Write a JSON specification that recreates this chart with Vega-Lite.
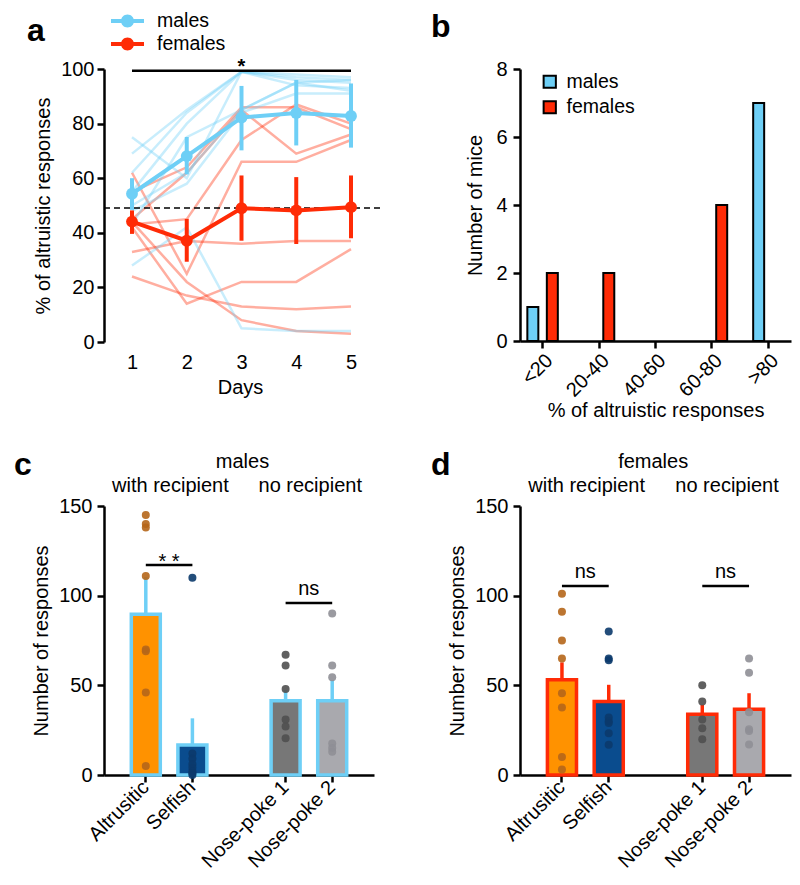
{
  "$schema": "https://vega.github.io/schema/vega-lite/v6.json",
  "padding": {"left": 14, "top": 8, "right": 5, "bottom": 5},
  "config": {
    "font": "Liberation Sans",
    "view": {"stroke": null},
    "axis": {"domainColor": "black", "domainWidth": 2.5, "tickColor": "black", "tickWidth": 2.5, "tickSize": 7, "labelColor": "black", "titleColor": "black", "labelFontSize": 20, "titleFontSize": 20, "titleFontWeight": "normal", "grid": false, "labelPadding": 4},
    "title": {"anchor": "start", "frame": "group", "fontSize": 32, "fontWeight": "bold", "color": "black"}
  },
  "columns": 2,
  "spacing": {"row": 164, "column": 144},
  "bounds": "flush",
  "resolve": {"scale": {"color": "independent", "fill": "independent"}, "legend": {"color": "independent"}},
  "concat": [
    {
      "width": 272, "height": 273,
      "title": {"text": "a", "dx": -77, "dy": 44},
      "data": {"values": [
            {"sex":"males","mouse":"M1","day":1,"pct":69},{"sex":"males","mouse":"M1","day":2,"pct":85},{"sex":"males","mouse":"M1","day":3,"pct":99},{"sex":"males","mouse":"M1","day":4,"pct":98},{"sex":"males","mouse":"M1","day":5,"pct":97},
            {"sex":"males","mouse":"M2","day":1,"pct":62},{"sex":"males","mouse":"M2","day":2,"pct":84},{"sex":"males","mouse":"M2","day":3,"pct":99},{"sex":"males","mouse":"M2","day":4,"pct":97},{"sex":"males","mouse":"M2","day":5,"pct":96},
            {"sex":"males","mouse":"M3","day":1,"pct":55},{"sex":"males","mouse":"M3","day":2,"pct":80},{"sex":"males","mouse":"M3","day":3,"pct":99},{"sex":"males","mouse":"M3","day":4,"pct":96},{"sex":"males","mouse":"M3","day":5,"pct":95},
            {"sex":"males","mouse":"M4","day":1,"pct":75},{"sex":"males","mouse":"M4","day":2,"pct":60},{"sex":"males","mouse":"M4","day":3,"pct":99},{"sex":"males","mouse":"M4","day":4,"pct":94},{"sex":"males","mouse":"M4","day":5,"pct":93},
            {"sex":"males","mouse":"M5","day":1,"pct":50},{"sex":"males","mouse":"M5","day":2,"pct":62},{"sex":"males","mouse":"M5","day":3,"pct":85},{"sex":"males","mouse":"M5","day":4,"pct":95},{"sex":"males","mouse":"M5","day":5,"pct":92},
            {"sex":"males","mouse":"M6","day":1,"pct":48},{"sex":"males","mouse":"M6","day":2,"pct":58},{"sex":"males","mouse":"M6","day":3,"pct":84},{"sex":"males","mouse":"M6","day":4,"pct":91},{"sex":"males","mouse":"M6","day":5,"pct":91},
            {"sex":"males","mouse":"M7","day":1,"pct":43},{"sex":"males","mouse":"M7","day":2,"pct":75},{"sex":"males","mouse":"M7","day":3,"pct":85},{"sex":"males","mouse":"M7","day":4,"pct":95},{"sex":"males","mouse":"M7","day":5,"pct":96},
            {"sex":"males","mouse":"M8","day":1,"pct":28},{"sex":"males","mouse":"M8","day":2,"pct":42},{"sex":"males","mouse":"M8","day":3,"pct":5},{"sex":"males","mouse":"M8","day":4,"pct":4},{"sex":"males","mouse":"M8","day":5,"pct":4},
            {"sex":"females","mouse":"F1","day":1,"pct":55},{"sex":"females","mouse":"F1","day":2,"pct":64},{"sex":"females","mouse":"F1","day":3,"pct":86},{"sex":"females","mouse":"F1","day":4,"pct":86},{"sex":"females","mouse":"F1","day":5,"pct":78},
            {"sex":"females","mouse":"F2","day":1,"pct":45},{"sex":"females","mouse":"F2","day":2,"pct":62},{"sex":"females","mouse":"F2","day":3,"pct":85},{"sex":"females","mouse":"F2","day":4,"pct":69},{"sex":"females","mouse":"F2","day":5,"pct":76},
            {"sex":"females","mouse":"F3","day":1,"pct":43},{"sex":"females","mouse":"F3","day":2,"pct":45},{"sex":"females","mouse":"F3","day":3,"pct":74},{"sex":"females","mouse":"F3","day":4,"pct":87},{"sex":"females","mouse":"F3","day":5,"pct":80},
            {"sex":"females","mouse":"F4","day":1,"pct":62},{"sex":"females","mouse":"F4","day":2,"pct":25},{"sex":"females","mouse":"F4","day":3,"pct":66},{"sex":"females","mouse":"F4","day":4,"pct":66},{"sex":"females","mouse":"F4","day":5,"pct":74},
            {"sex":"females","mouse":"F5","day":1,"pct":33},{"sex":"females","mouse":"F5","day":2,"pct":37},{"sex":"females","mouse":"F5","day":3,"pct":36},{"sex":"females","mouse":"F5","day":4,"pct":37},{"sex":"females","mouse":"F5","day":5,"pct":37},
            {"sex":"females","mouse":"F6","day":1,"pct":24},{"sex":"females","mouse":"F6","day":2,"pct":17},{"sex":"females","mouse":"F6","day":3,"pct":13},{"sex":"females","mouse":"F6","day":4,"pct":12},{"sex":"females","mouse":"F6","day":5,"pct":13},
            {"sex":"females","mouse":"F7","day":1,"pct":42},{"sex":"females","mouse":"F7","day":2,"pct":14},{"sex":"females","mouse":"F7","day":3,"pct":22},{"sex":"females","mouse":"F7","day":4,"pct":22},{"sex":"females","mouse":"F7","day":5,"pct":34},
            {"sex":"females","mouse":"F8","day":1,"pct":44},{"sex":"females","mouse":"F8","day":2,"pct":22},{"sex":"females","mouse":"F8","day":3,"pct":8},{"sex":"females","mouse":"F8","day":4,"pct":4},{"sex":"females","mouse":"F8","day":5,"pct":3}
      ]},
      "layer": [
        {
          "transform": [{"filter": "datum.sex === 'females'"}],
          "mark": {"type": "line", "strokeWidth": 2.5, "opacity": 0.38, "color": "#FF2B06"},
          "encoding": {
            "x": {"field": "day", "type": "quantitative", "scale": {"domain": [0.4886, 5.4566], "nice": false, "zero": false},
                  "axis": {"values": [1, 2, 3, 4, 5], "title": "Days", "domain": false, "ticks": false, "labelPadding": 10, "titlePadding": 5, "labelFlush": false}},
            "y": {"field": "pct", "type": "quantitative", "scale": {"domain": [0, 100], "nice": false},
                  "axis": {"values": [0, 20, 40, 60, 80, 100], "title": "% of altruistic responses", "titlePadding": 7, "labelPadding": 3}},
            "detail": {"field": "mouse"}
          }
        },
        {
          "transform": [{"filter": "datum.sex === 'males'"}],
          "mark": {"type": "line", "strokeWidth": 2.5, "opacity": 0.38, "color": "#6ECFF6"},
          "encoding": {
            "x": {"field": "day", "type": "quantitative"},
            "y": {"field": "pct", "type": "quantitative"},
            "detail": {"field": "mouse"}
          }
        },
        {
          "data": {"values": [{"chance": 49.1}]},
          "mark": {"type": "rule", "strokeDash": [6, 4], "strokeWidth": 1.5, "color": "black"},
          "encoding": {"x": {"datum": 0.4886, "type": "quantitative"}, "x2": {"datum": 5.548}, "y": {"field": "chance", "type": "quantitative"}}
        },
        {
          "data": {"values": [{"from": 1, "to": 5, "mid": 3, "level": 99.4, "label": "*"}]},
          "layer": [
            {"mark": {"type": "rule", "strokeWidth": 2.5, "color": "black"},
             "encoding": {"x": {"field": "from", "type": "quantitative"}, "x2": {"field": "to"}, "y": {"field": "level", "type": "quantitative"}}},
            {"mark": {"type": "text", "fontSize": 20, "fontWeight": "bold", "color": "black", "baseline": "alphabetic", "dy": 2},
             "encoding": {"x": {"field": "mid", "type": "quantitative"}, "y": {"field": "level", "type": "quantitative"}, "text": {"field": "label"}}}
          ]
        },
        {
          "data": {"values": [
            {"sex":"males","day":1,"mean":54.3,"lo":48.4,"hi":60},
            {"sex":"males","day":2,"mean":68.1,"lo":61.4,"hi":75.1},
            {"sex":"males","day":3,"mean":82.2,"lo":70.2,"hi":93.8},
            {"sex":"males","day":4,"mean":83.9,"lo":72,"hi":96},
            {"sex":"males","day":5,"mean":82.8,"lo":71.2,"hi":94.7},
            {"sex":"females","day":1,"mean":44.1,"lo":39.6,"hi":48.2},
            {"sex":"females","day":2,"mean":37.1,"lo":29.4,"hi":45.1},
            {"sex":"females","day":3,"mean":49,"lo":37.1,"hi":61},
            {"sex":"females","day":4,"mean":48.2,"lo":35.9,"hi":60.4},
            {"sex":"females","day":5,"mean":49.4,"lo":38,"hi":61}
          ]},
          "layer": [
            {"mark": {"type": "line", "strokeWidth": 4},
             "encoding": {"x": {"field": "day", "type": "quantitative"}, "y": {"field": "mean", "type": "quantitative"},
                          "color": {"field": "sex", "type": "nominal", "scale": {"domain": ["males", "females"], "range": ["#6ECFF6", "#FF2B06"]}}}},
            {"mark": {"type": "rule", "strokeWidth": 4},
             "encoding": {"x": {"field": "day", "type": "quantitative"}, "y": {"field": "lo", "type": "quantitative"}, "y2": {"field": "hi"},
                          "color": {"field": "sex", "type": "nominal", "scale": {"domain": ["males", "females"], "range": ["#6ECFF6", "#FF2B06"]}}}},
            {"mark": {"type": "circle", "size": 140, "opacity": 1},
             "encoding": {"x": {"field": "day", "type": "quantitative"}, "y": {"field": "mean", "type": "quantitative"},
                          "color": {"field": "sex", "type": "nominal", "scale": {"domain": ["males", "females"], "range": ["#6ECFF6", "#FF2B06"]},
                                    "legend": {"orient": "none", "legendX": 10.5, "legendY": -61, "title": null,
                                               "symbolType": "M-1.27,-0.15L1.27,-0.15L1.27,0.15L-1.27,0.15ZM-0.5,0A0.5,0.5 0 1,1 0.5,0A0.5,0.5 0 1,1 -0.5,0Z",
                                               "symbolSize": 676, "symbolStrokeWidth": 0, "symbolOpacity": 1, "labelFontSize": 19.5, "labelColor": "black", "labelOffset": 16.5, "rowPadding": 0, "padding": 0}}}}
          ]
        }
      ]
    },
    {
      "width": 271, "height": 272,
      "title": {"text": "b", "dx": -89, "dy": -11},
      "data": {"values": [
        {"bin": "<20", "sex": "males", "n": 1},
        {"bin": "<20", "sex": "females", "n": 2},
        {"bin": "20-40", "sex": "females", "n": 2},
        {"bin": "60-80", "sex": "females", "n": 4},
        {"bin": ">80", "sex": "males", "n": 7}
      ]},
      "mark": {"type": "bar", "stroke": "black", "strokeWidth": 2},
      "encoding": {
        "x": {"field": "bin", "type": "nominal", "scale": {"domain": ["<20", "20-40", "40-60", "60-80", ">80"], "paddingInner": 0.4, "paddingOuter": 0.1},
              "axis": {"title": "% of altruistic responses", "labelAngle": -45, "tickSize": 7, "labelPadding": 2, "titlePadding": 0}},
        "xOffset": {"field": "sex", "type": "nominal", "scale": {"domain": ["males", "females"], "paddingInner": 0.436, "paddingOuter": 0.087}},
        "y": {"field": "n", "type": "quantitative", "scale": {"domain": [0, 8], "nice": false},
              "axis": {"values": [0, 2, 4, 6, 8], "title": "Number of mice", "labelPadding": 6, "titlePadding": 10}},
        "color": {"field": "sex", "type": "nominal", "scale": {"domain": ["males", "females"], "range": ["#6ECFF6", "#FF2B06"]},
                  "legend": {"orient": "none", "legendX": 20, "legendY": 3, "title": null, "symbolType": "square", "symbolSize": 150,
                             "symbolStrokeColor": "black", "symbolStrokeWidth": 2, "labelFontSize": 19.5, "labelColor": "black", "labelOffset": 7, "rowPadding": 4.5, "padding": 0}}
      }
    },
    {
      "width": 270, "height": 269,
      "title": {"text": "c", "dx": -90, "dy": 34},
      "layer": [
        {
          "data": {"values": [
            {"cond": "Altrusitic", "mean": 89.7, "upper": 110.4},
            {"cond": "Selfish", "mean": 16.7, "upper": 31.6},
            {"cond": "Nose-poke 1", "mean": 41.4, "upper": 47.3},
            {"cond": "Nose-poke 2", "mean": 41.4, "upper": 52.9}
          ]},
          "layer": [
            {"mark": {"type": "rule", "strokeWidth": 3.5, "color": "#6ECFF6"},
             "encoding": {"x": {"field": "cond", "type": "nominal"}, "y": {"field": "mean", "type": "quantitative"}, "y2": {"field": "upper"}}},
            {"mark": {"type": "bar", "stroke": "#6ECFF6", "strokeWidth": 3.5},
             "encoding": {
               "x": {"field": "cond", "type": "nominal", "scale": {"domain": ["Altrusitic", "Selfish", "gap", "Nose-poke 1", "Nose-poke 2"], "paddingInner": 0.378, "paddingOuter": 0.586},
                     "axis": {"values": ["Altrusitic", "Selfish", "Nose-poke 1", "Nose-poke 2"], "title": null, "labelAngle": -45, "tickSize": 7, "labelPadding": 2}},
               "y": {"field": "mean", "type": "quantitative", "scale": {"domain": [0, 150], "nice": false},
                     "axis": {"values": [0, 50, 100, 150], "title": "Number of responses", "labelPadding": 5, "titlePadding": 7}},
               "fill": {"field": "cond", "type": "nominal", "scale": {"domain": ["Altrusitic", "Selfish", "Nose-poke 1", "Nose-poke 2"], "range": ["#FF9200", "#0A4C8E", "#777777", "#A9A9AE"]}, "legend": null}}}
          ]
        },
        {
          "data": {"values": [
            {"cond": "Altrusitic", "value": 145}, {"cond": "Altrusitic", "value": 140}, {"cond": "Altrusitic", "value": 138}, {"cond": "Altrusitic", "value": 111},
            {"cond": "Altrusitic", "value": 70}, {"cond": "Altrusitic", "value": 69}, {"cond": "Altrusitic", "value": 46}, {"cond": "Altrusitic", "value": 5},
            {"cond": "Selfish", "value": 110}, {"cond": "Selfish", "value": 12}, {"cond": "Selfish", "value": 9}, {"cond": "Selfish", "value": 6},
            {"cond": "Selfish", "value": 4}, {"cond": "Selfish", "value": 2}, {"cond": "Selfish", "value": 1}, {"cond": "Selfish", "value": 0},
            {"cond": "Nose-poke 1", "value": 67}, {"cond": "Nose-poke 1", "value": 61}, {"cond": "Nose-poke 1", "value": 48}, {"cond": "Nose-poke 1", "value": 31},
            {"cond": "Nose-poke 1", "value": 27}, {"cond": "Nose-poke 1", "value": 20.5},
            {"cond": "Nose-poke 2", "value": 90}, {"cond": "Nose-poke 2", "value": 61}, {"cond": "Nose-poke 2", "value": 54.5}, {"cond": "Nose-poke 2", "value": 17.5},
            {"cond": "Nose-poke 2", "value": 15}, {"cond": "Nose-poke 2", "value": 13}
          ]},
          "mark": {"type": "circle", "size": 64, "opacity": 0.9},
          "encoding": {
            "x": {"field": "cond", "type": "nominal"},
            "y": {"field": "value", "type": "quantitative"},
            "color": {"field": "cond", "type": "nominal", "scale": {"domain": ["Altrusitic", "Selfish", "Nose-poke 1", "Nose-poke 2"], "range": ["#B5661A", "#0B3A6B", "#4F4F4F", "#8F8F96"]}, "legend": null}
          }
        },
        {
          "data": {"values": [
            {"a": "Altrusitic", "b": "Selfish", "level": 117.1, "tlevel": 115.4, "label": "* *"},
            {"a": "Nose-poke 1", "b": "Nose-poke 2", "level": 95.9, "tlevel": 100.4, "label": "ns"}
          ]},
          "layer": [
            {"mark": {"type": "rule", "strokeWidth": 2.5, "color": "black"},
             "encoding": {"x": {"field": "a", "type": "nominal"}, "x2": {"field": "b"}, "y": {"field": "level", "type": "quantitative"}}},
            {"mark": {"type": "text", "fontSize": 20, "color": "black", "baseline": "alphabetic"},
             "encoding": {"x": {"field": "a", "type": "nominal", "bandPosition": 1.3}, "y": {"field": "tlevel", "type": "quantitative"}, "text": {"field": "label"},
                          "fontWeight": {"condition": {"test": "datum.label === '* *'", "value": "bold"}, "value": "normal"}}}
          ]
        },
        {
          "data": {"values": [
            {"label": "with recipient", "anchor": "Altrusitic", "level": 158},
            {"label": "no recipient", "anchor": "Nose-poke 1", "level": 158}
          ]},
          "mark": {"type": "text", "fontSize": 20, "color": "black", "baseline": "alphabetic"},
          "encoding": {"x": {"field": "anchor", "type": "nominal", "bandPosition": 1.35}, "y": {"field": "level", "type": "quantitative"}, "text": {"field": "label"}}
        },
        {
          "data": {"values": [{"label": "males", "anchor": "gap", "level": 171}]},
          "mark": {"type": "text", "fontSize": 20, "color": "black", "baseline": "alphabetic"},
          "encoding": {"x": {"field": "anchor", "type": "nominal", "bandPosition": 0.62}, "y": {"field": "level", "type": "quantitative"}, "text": {"field": "label"}}
        }
      ]
    },
    {
      "width": 271, "height": 269,
      "title": {"text": "d", "dx": -89, "dy": 34},
      "layer": [
        {
          "data": {"values": [
            {"cond": "Altrusitic", "mean": 53.1, "upper": 62.8},
            {"cond": "Selfish", "mean": 41, "upper": 50.3},
            {"cond": "Nose-poke 1", "mean": 33.9, "upper": 39.1},
            {"cond": "Nose-poke 2", "mean": 36.7, "upper": 45.6}
          ]},
          "layer": [
            {"mark": {"type": "rule", "strokeWidth": 3.5, "color": "#FF2B06"},
             "encoding": {"x": {"field": "cond", "type": "nominal"}, "y": {"field": "mean", "type": "quantitative"}, "y2": {"field": "upper"}}},
            {"mark": {"type": "bar", "stroke": "#FF2B06", "strokeWidth": 3.5},
             "encoding": {
               "x": {"field": "cond", "type": "nominal", "scale": {"domain": ["Altrusitic", "Selfish", "gap", "Nose-poke 1", "Nose-poke 2"], "paddingInner": 0.378, "paddingOuter": 0.586},
                     "axis": {"values": ["Altrusitic", "Selfish", "Nose-poke 1", "Nose-poke 2"], "title": null, "labelAngle": -45, "tickSize": 7, "labelPadding": 2}},
               "y": {"field": "mean", "type": "quantitative", "scale": {"domain": [0, 150], "nice": false},
                     "axis": {"values": [0, 50, 100, 150], "title": "Number of responses", "labelPadding": 5, "titlePadding": 7}},
               "fill": {"field": "cond", "type": "nominal", "scale": {"domain": ["Altrusitic", "Selfish", "Nose-poke 1", "Nose-poke 2"], "range": ["#FF9200", "#0A4C8E", "#777777", "#A9A9AE"]}, "legend": null}}}
          ]
        },
        {
          "data": {"values": [
            {"cond": "Altrusitic", "value": 101}, {"cond": "Altrusitic", "value": 91}, {"cond": "Altrusitic", "value": 75}, {"cond": "Altrusitic", "value": 65},
            {"cond": "Altrusitic", "value": 45.6}, {"cond": "Altrusitic", "value": 37.6}, {"cond": "Altrusitic", "value": 10}, {"cond": "Altrusitic", "value": 3},
            {"cond": "Selfish", "value": 80}, {"cond": "Selfish", "value": 65}, {"cond": "Selfish", "value": 64}, {"cond": "Selfish", "value": 32},
            {"cond": "Selfish", "value": 30}, {"cond": "Selfish", "value": 29}, {"cond": "Selfish", "value": 23.3}, {"cond": "Selfish", "value": 16.8},
            {"cond": "Nose-poke 1", "value": 50}, {"cond": "Nose-poke 1", "value": 41}, {"cond": "Nose-poke 1", "value": 31}, {"cond": "Nose-poke 1", "value": 26},
            {"cond": "Nose-poke 1", "value": 20},
            {"cond": "Nose-poke 2", "value": 65}, {"cond": "Nose-poke 2", "value": 57}, {"cond": "Nose-poke 2", "value": 35}, {"cond": "Nose-poke 2", "value": 25.5},
            {"cond": "Nose-poke 2", "value": 24.5}, {"cond": "Nose-poke 2", "value": 17}
          ]},
          "mark": {"type": "circle", "size": 64, "opacity": 0.9},
          "encoding": {
            "x": {"field": "cond", "type": "nominal"},
            "y": {"field": "value", "type": "quantitative"},
            "color": {"field": "cond", "type": "nominal", "scale": {"domain": ["Altrusitic", "Selfish", "Nose-poke 1", "Nose-poke 2"], "range": ["#B5661A", "#0B3A6B", "#4F4F4F", "#8F8F96"]}, "legend": null}
          }
        },
        {
          "data": {"values": [
            {"a": "Altrusitic", "b": "Selfish", "level": 105.4, "tlevel": 109.7, "label": "ns"},
            {"a": "Nose-poke 1", "b": "Nose-poke 2", "level": 105.4, "tlevel": 109.7, "label": "ns"}
          ]},
          "layer": [
            {"mark": {"type": "rule", "strokeWidth": 2.5, "color": "black"},
             "encoding": {"x": {"field": "a", "type": "nominal"}, "x2": {"field": "b"}, "y": {"field": "level", "type": "quantitative"}}},
            {"mark": {"type": "text", "fontSize": 20, "color": "black", "baseline": "alphabetic"},
             "encoding": {"x": {"field": "a", "type": "nominal", "bandPosition": 1.3}, "y": {"field": "tlevel", "type": "quantitative"}, "text": {"field": "label"}}}
          ]
        },
        {
          "data": {"values": [
            {"label": "with recipient", "anchor": "Altrusitic", "level": 158},
            {"label": "no recipient", "anchor": "Nose-poke 1", "level": 158}
          ]},
          "mark": {"type": "text", "fontSize": 20, "color": "black", "baseline": "alphabetic"},
          "encoding": {"x": {"field": "anchor", "type": "nominal", "bandPosition": 1.35}, "y": {"field": "level", "type": "quantitative"}, "text": {"field": "label"}}
        },
        {
          "data": {"values": [{"label": "females", "anchor": "gap", "level": 171}]},
          "mark": {"type": "text", "fontSize": 20, "color": "black", "baseline": "alphabetic"},
          "encoding": {"x": {"field": "anchor", "type": "nominal", "bandPosition": 0.42}, "y": {"field": "level", "type": "quantitative"}, "text": {"field": "label"}}
        }
      ]
    }
  ]
}
